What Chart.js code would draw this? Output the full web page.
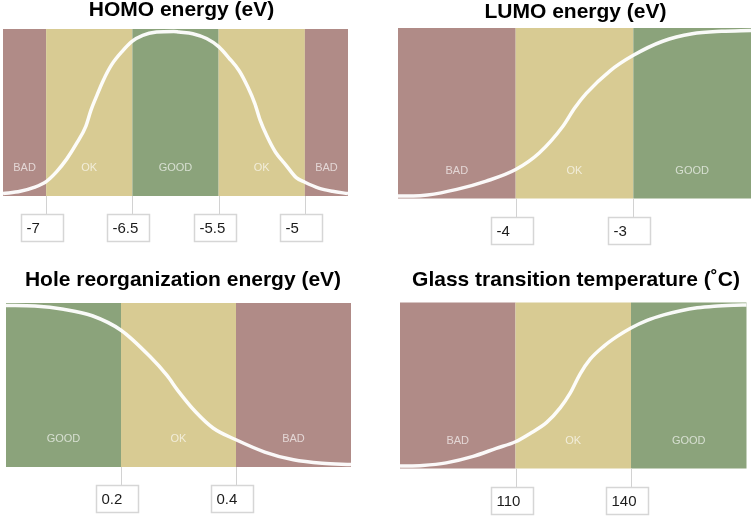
<!DOCTYPE html>
<html>
<head>
<meta charset="utf-8">
<script src="https://cdn.jsdelivr.net/npm/chart.js@4.4.1/dist/chart.umd.min.js"></script>
<style>
  body { margin: 0; background: #fff; }
  #wrap { position: relative; width: 754px; height: 517px; overflow: hidden; }
  #wrap canvas { position: absolute; left: -30px; top: 0; }
</style>
</head>
<body>
<div id="wrap">
  <canvas id="homo" width="814" height="517"></canvas>
  <canvas id="lumo" width="814" height="517"></canvas>
  <canvas id="hole" width="814" height="517"></canvas>
  <canvas id="glass" width="814" height="517"></canvas>
</div>
<script>
// HOMO energy (eV) - the bands are drawn equal width, so this axis runs
// in band positions (0 = -7, 1 = -6.5, 2 = -5.5, 3 = -5)
var homoEdges = [-0.5, 0, 1, 2, 3, 3.5];
var homoZones = ['BAD', 'OK', 'GOOD', 'OK', 'BAD'];
var homoTicks = [0, 1, 2, 3];
var homoLabels = ['-7', '-6.5', '-5.5', '-5'];
var homoX = [-0.5, -0.3, -0.14, 0, 0.12, 0.24, 0.36, 0.46, 0.52, 0.58, 0.66, 0.76, 0.88, 1.0, 1.12, 1.28, 1.48,
             1.54, 1.70, 1.86, 2.0, 2.12, 2.24, 2.34, 2.42, 2.48, 2.56, 2.66, 2.78, 2.9, 3.0, 3.16, 3.32, 3.5];
var homoY = [0, 0.014, 0.038, 0.074, 0.134, 0.214, 0.315, 0.415, 0.515, 0.595, 0.695, 0.795, 0.876, 0.94, 0.976, 0.996, 1.0,
             0.996, 0.986, 0.956, 0.906, 0.836, 0.756, 0.655, 0.555, 0.455, 0.355, 0.255, 0.176, 0.098, 0.07, 0.034, 0.014, 0];

// LUMO energy (eV)
var lumoEdges = [-5, -4, -3, -2];
var lumoZones = ['BAD', 'OK', 'GOOD'];
var lumoTicks = [-4, -3];
var lumoX = [-5, -4.87, -4.75, -4.5, -4.25, -4.0, -3.8, -3.6, -3.5, -3.4, -3.2, -3.0, -2.75, -2.5, -2.25, -2.0];
var lumoY = [0, 0, 0.006, 0.04, 0.09, 0.16, 0.26, 0.42, 0.53, 0.62, 0.755, 0.85, 0.935, 0.98, 0.995, 1.0];

// Hole reorganization energy (eV)
var holeEdges = [0, 0.2, 0.4, 0.6];
var holeZones = ['GOOD', 'OK', 'BAD'];
var holeTicks = [0.2, 0.4];
var holeX = [0, 0.05, 0.1, 0.15, 0.2, 0.25, 0.28, 0.3, 0.33, 0.36, 0.4, 0.45, 0.5, 0.55, 0.6];
var holeY = [1.0, 0.996, 0.976, 0.935, 0.844, 0.68, 0.56, 0.46, 0.33, 0.23, 0.156, 0.079, 0.03, 0.008, 0];

// Glass transition temperature (˚C)
var glassEdges = [80, 110, 140, 170];
var glassZones = ['BAD', 'OK', 'GOOD'];
var glassTicks = [110, 140];
var glassX = [80, 85.9, 92, 99, 105, 110, 113.7, 118.1, 121.6, 124.2, 126.8, 129.4, 132.9, 136.3, 140, 144.2, 148.5, 152.9, 157.2, 161.6, 166.8, 170];
var glassY = [0, 0.004, 0.02, 0.06, 0.11, 0.151, 0.201, 0.271, 0.361, 0.452, 0.572, 0.663, 0.743, 0.803, 0.857, 0.904, 0.938, 0.964, 0.982, 0.992, 0.998, 1.0];

var zoneColors = { BAD: '#b08b87', OK: '#d8cb93', GOOD: '#8ba37b' };
var FONT = '"Liberation Sans", Arial, Helvetica, sans-serif';

Chart.defaults.font.family = FONT;

// coloured bands + their labels, behind the curve
var zonePlugin = {
  id: 'zones',
  beforeDatasetsDraw: function (chart, args, opts) {
    var ctx = chart.ctx, a = chart.chartArea, x = chart.scales.x;
    ctx.save();
    opts.zones.forEach(function (z, i) {
      var x0 = x.getPixelForValue(opts.edges[i]);
      var x1 = x.getPixelForValue(opts.edges[i + 1]);
      ctx.fillStyle = zoneColors[z];
      ctx.fillRect(x0, a.top, x1 - x0, a.bottom - a.top);
      ctx.fillStyle = 'rgba(255,255,255,0.65)';
      ctx.font = '11px ' + FONT;
      ctx.textAlign = 'center';
      ctx.textBaseline = 'middle';
      ctx.fillText(z, (x0 + x1) / 2, a.bottom - 28);
    });
    ctx.restore();
  },
  // threshold ticks: little stem + boxed label under the plot
  afterDraw: function (chart, args, opts) {
    var ctx = chart.ctx, a = chart.chartArea, x = chart.scales.x;
    ctx.save();
    opts.ticks.forEach(function (t, i) {
      var px = Math.round(x.getPixelForValue(t)) + 0.5;
      var top = Math.round(a.bottom + 18) + 0.5;
      var label = opts.labels ? opts.labels[i] : String(t);
      ctx.strokeStyle = '#d2d2d2';
      ctx.lineWidth = 1;
      ctx.beginPath();
      ctx.moveTo(px, a.bottom);
      ctx.lineTo(px, top);
      ctx.stroke();
      ctx.fillStyle = '#fff';
      ctx.fillRect(px - 25, top, 42, 27);
      ctx.lineWidth = 1.5;
      ctx.strokeStyle = '#d6d6d6';
      ctx.strokeRect(px - 25, top, 42, 27);
      ctx.fillStyle = '#1c1c1c';
      ctx.font = '15px ' + FONT;
      ctx.textAlign = 'left';
      ctx.textBaseline = 'middle';
      ctx.fillText(label, px - 20, top + 14);
    });
    ctx.restore();
  }
};

function makePanel(id, title, xs, ys, edges, zones, ticks, labels, box) {
  var pts = xs.map(function (v, i) { return { x: v, y: ys[i] }; });
  return new Chart(id, {
    type: 'line',
    data: {
      datasets: [{
        data: pts,
        borderColor: 'rgba(255,255,255,0.95)',
        borderWidth: 3.5,
        pointRadius: 0,
        cubicInterpolationMode: 'monotone',
        fill: false,
        clip: false
      }]
    },
    options: {
      responsive: false,
      animation: false,
      events: [],
      layout: { padding: { left: box.padL, right: box.padR, top: 0, bottom: box.padB } },
      scales: {
        x: { type: 'linear', min: edges[0], max: edges[edges.length - 1], display: false },
        y: {
          type: 'linear', min: -0.015, max: 1.015, position: 'right',
          grid: { display: false }, border: { display: false }, ticks: { display: false },
          afterFit: function (s) { s.width = box.axisW; }
        }
      },
      plugins: {
        legend: { display: false },
        tooltip: { enabled: false },
        title: {
          display: true,
          text: title,
          color: '#000',
          font: { size: 21, weight: 'bold', lineHeight: 1 },
          padding: { top: box.titleTop, bottom: box.titleBottom }
        },
        zones: { edges: edges, zones: zones, ticks: ticks, labels: labels }
      }
    },
    plugins: [zonePlugin]
  });
}

makePanel('homo', 'HOMO energy (eV)', homoX, homoY, homoEdges, homoZones, homoTicks, homoLabels,
  { padL: 33, padR: 424, padB: 321, axisW: 12, titleTop: 0.2, titleBottom: 7.8 });
makePanel('lumo', 'LUMO energy (eV)', lumoX, lumoY, lumoEdges, lumoZones, lumoTicks, null,
  { padL: 428, padR: 31, padB: 318.5, axisW: 2, titleTop: 1.5, titleBottom: 5.5 });
makePanel('hole', 'Hole reorganization energy (eV)', holeX, holeY, holeEdges, holeZones, holeTicks, null,
  { padL: 36, padR: 424, padB: 50, axisW: 9, titleTop: 269.8, titleBottom: 12.2 });
makePanel('glass', 'Glass transition temperature (˚C)', glassX, glassY, glassEdges, glassZones, glassTicks, null,
  { padL: 430, padR: 32, padB: 48.5, axisW: 5.5, titleTop: 269.8, titleBottom: 11.7 });
</script>
</body>
</html>
